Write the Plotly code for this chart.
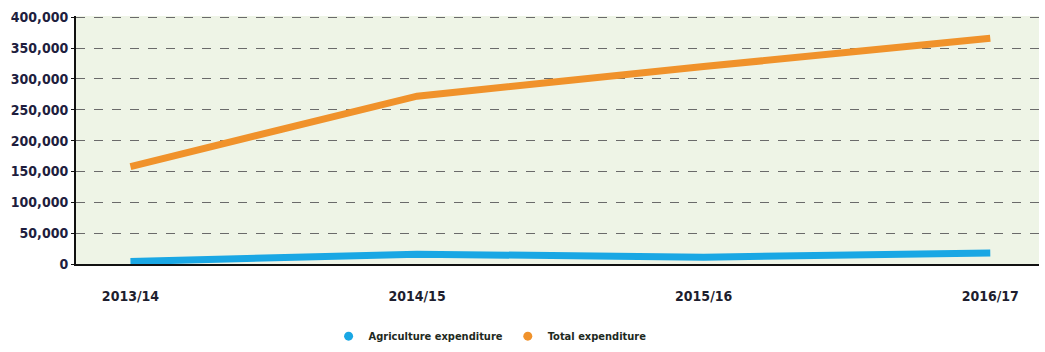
import plotly.graph_objects as go

years = ["2013/14", "2014/15", "2015/16", "2016/17"]
agriculture = [4000, 16000, 11000, 18000]
total = [158000, 272000, 320000, 366000]
y_ticks = [0, 50000, 100000, 150000, 200000, 250000, 300000, 350000, 400000]
y_tick_labels = ["0", "50,000", "100,000", "150,000", "200,000", "250,000", "300,000", "350,000", "400,000"]
series_names = ["Agriculture expenditure", "Total expenditure"]
series_colors = ["#1aa7e4", "#f0922b"]

font_family = "DejaVu Sans Condensed, Liberation Sans Narrow, sans-serif"

fig = go.Figure()
for name, values, color in zip(series_names, [agriculture, total], series_colors):
    fig.add_trace(go.Scatter(
        x=list(range(len(years))), y=values, name=name,
        mode="lines", line=dict(color=color, width=7), showlegend=False,
    ))
# legend entries with circular markers
for name, color in zip(series_names, series_colors):
    fig.add_trace(go.Scatter(
        x=[None], y=[None], name=name, mode="markers",
        marker=dict(color=color, size=9, symbol="circle"), showlegend=True,
    ))

fig.update_layout(
    width=1045, height=352,
    margin=dict(l=76, r=6, t=16, b=88, autoexpand=False),
    paper_bgcolor="white",
    plot_bgcolor="#eef4e6",
    font=dict(family=font_family, size=14, color="#1e1e2e"),
    showlegend=True,
    legend=dict(
        orientation="h", x=0.43, xanchor="center",
        yref="container", y=0.045, yanchor="middle",
        font=dict(size=11, color="#1e2a1e", family=font_family, weight="bold"),
        itemwidth=30, tracegroupgap=0,
    ),
)
fig.update_xaxes(
    tickmode="array", tickvals=list(range(len(years))), ticktext=years,
    range=[-0.19, 3.17], showgrid=False, zeroline=False,
    showline=True, linecolor="#111", linewidth=2,
    ticks="", ticklabelstandoff=18,
    tickfont=dict(size=14, color="#1e1e2e", weight="bold"),
)
fig.update_yaxes(
    tickmode="array", tickvals=y_ticks, ticktext=y_tick_labels,
    range=[0, 402000], showgrid=True, gridcolor="#6a6a6a", griddash="dash", gridwidth=1,
    zeroline=False, showline=True, linecolor="#111", linewidth=2,
    ticks="outside", ticklen=3, tickcolor="#111",
    tickfont=dict(size=14, color="#1e1e3e", weight="bold"),
)

fig.write_html("out.html")
